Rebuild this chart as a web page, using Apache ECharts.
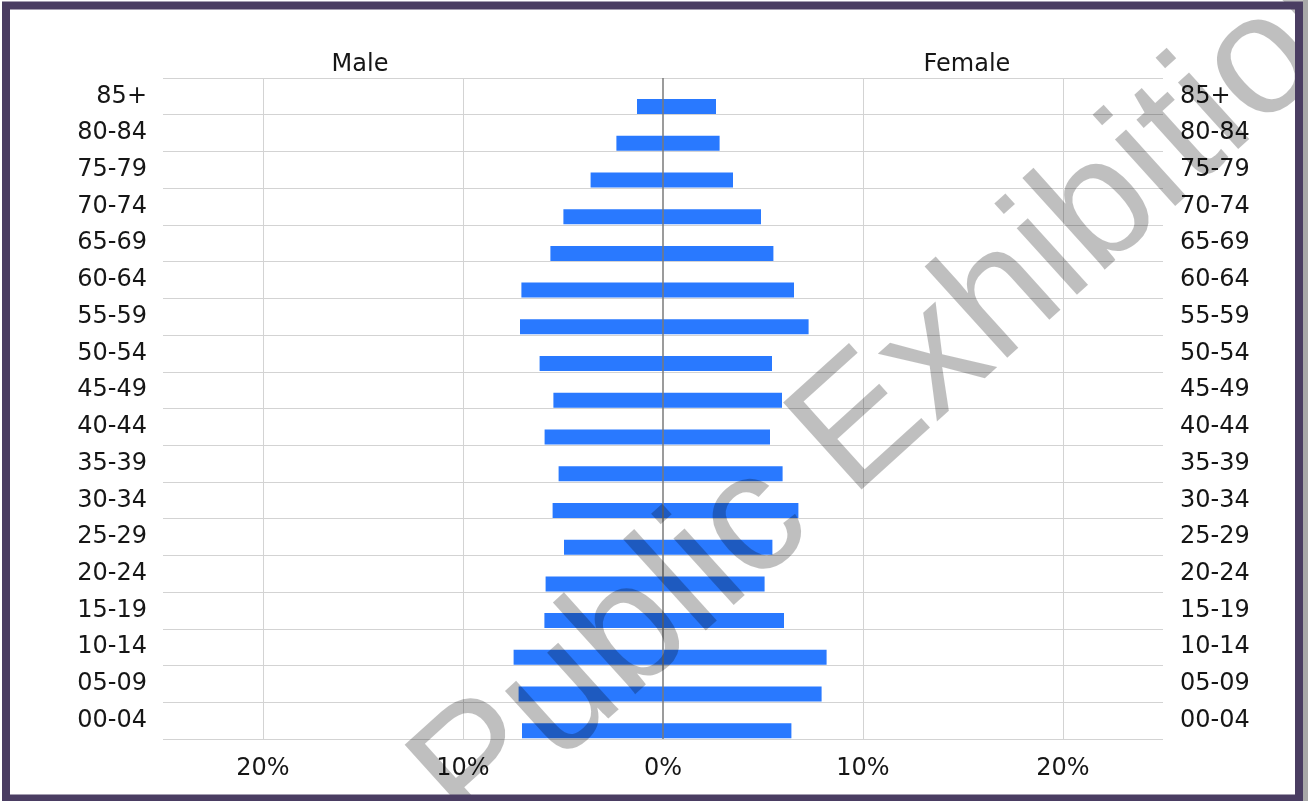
<!DOCTYPE html>
<html>
<head>
<meta charset="utf-8">
<script src="https://cdn.jsdelivr.net/npm/echarts@6/dist/echarts.min.js"></script>
<style>
html,body{margin:0;padding:0;background:#fff;}
#chart{width:1308px;height:801px;}
</style>
</head>
<body>
<div id="chart"></div>
<script>
// Age groups, bottom to top
const ageGroups = ['00-04','05-09','10-14','15-19','20-24','25-29','30-34','35-39','40-44','45-49','50-54','55-59','60-64','65-69','70-74','75-79','80-84','85+'];
// Percent of population (bottom to top)
const maleValues = [7.05,7.22,7.47,5.93,5.87,4.95,5.52,5.22,5.92,5.48,6.17,7.15,7.08,5.63,4.98,3.62,2.33,1.3];
const femaleValues = [6.42,7.93,8.18,6.05,5.08,5.47,6.77,5.98,5.35,5.95,5.45,7.28,6.55,5.52,4.9,3.5,2.83,2.65];
const xTicks = [-20,-10,0,10,20];
const sideTitles = ['Male','Female'];

const FONT = '"DejaVu Sans", sans-serif';
const TXT = '#161616';
const BLUE = '#2979ff';

const chart = echarts.init(document.getElementById('chart'), null, {renderer:'canvas'});
const option = {
  backgroundColor:'#ffffff',
  animation:false,
  grid:{left:163,right:145,top:78,bottom:62,containLabel:false},
  xAxis:{
    type:'value', min:-25, max:25, interval:5,
    axisLine:{show:false}, axisTick:{show:false}, splitLine:{show:false},
    axisLabel:{
      margin:18, color:TXT, fontFamily:FONT, fontSize:24,
      formatter:function(v){ return xTicks.indexOf(v) >= 0 ? Math.abs(v)+'%' : ''; }
    }
  },
  yAxis:[
    {type:'category', data:ageGroups, position:'left', boundaryGap:true,
     axisLine:{show:false}, axisTick:{show:false},
     splitLine:{show:true, lineStyle:{color:'#d3d3d3', width:1}},
     axisLabel:{margin:16, color:TXT, fontFamily:FONT, fontSize:24, interval:0}},
    {type:'category', data:ageGroups, position:'right', boundaryGap:true,
     axisLine:{show:false}, axisTick:{show:false}, splitLine:{show:false},
     axisLabel:{margin:17, color:TXT, fontFamily:FONT, fontSize:24, interval:0}}
  ],
  series:[
    {name:'spacer', type:'bar', yAxisIndex:0, data:ageGroups.map(()=>null), barWidth:15, barGap:'35%', silent:true},
    {name:'Male', type:'bar', stack:'pop', yAxisIndex:0, barWidth:15, barGap:'35%',
     data:maleValues.map(v=>-v), itemStyle:{color:BLUE},
     markLine:{silent:true, symbol:'none', label:{show:false}, animation:false,
       data:xTicks.map(v=>({xAxis:v, lineStyle:{color: v===0 ? '#7a7a7a' : '#d3d3d3', width: v===0 ? 1.5 : 1, type:'solid'}}))}},
    {name:'Female', type:'bar', stack:'pop', yAxisIndex:0, barWidth:15, barGap:'35%',
     data:femaleValues, itemStyle:{color:BLUE}},
    {name:'rightAxis', type:'bar', yAxisIndex:1, data:ageGroups.map(()=>null), silent:true}
  ],
  graphic:[
    {type:'text', x:360, y:65, z:10, style:{text:sideTitles[0], fill:TXT, font:'24px '+FONT, textAlign:'center', textVerticalAlign:'middle'}},
    {type:'text', x:967, y:65, z:10, style:{text:sideTitles[1], fill:TXT, font:'24px '+FONT, textAlign:'center', textVerticalAlign:'middle'}},
    {type:'text', x:904, y:388, rotation:0.735, z:100, silent:true,
     style:{text:'Public Exhibition', fill:'rgba(0,0,0,0.25)', font:'170px "Liberation Sans", Arial, sans-serif', textAlign:'center', textVerticalAlign:'middle'}},
    {type:'rect', z:101, silent:true, shape:{x:1303, y:0, width:5, height:801}, style:{fill:'#a8a8a8'}},
    {type:'rect', z:102, silent:true, shape:{x:6, y:5.5, width:1293, height:793}, style:{fill:'none', stroke:'#4a3d62', lineWidth:8}}
  ]
};
chart.setOption(option);
</script>
</body>
</html>
